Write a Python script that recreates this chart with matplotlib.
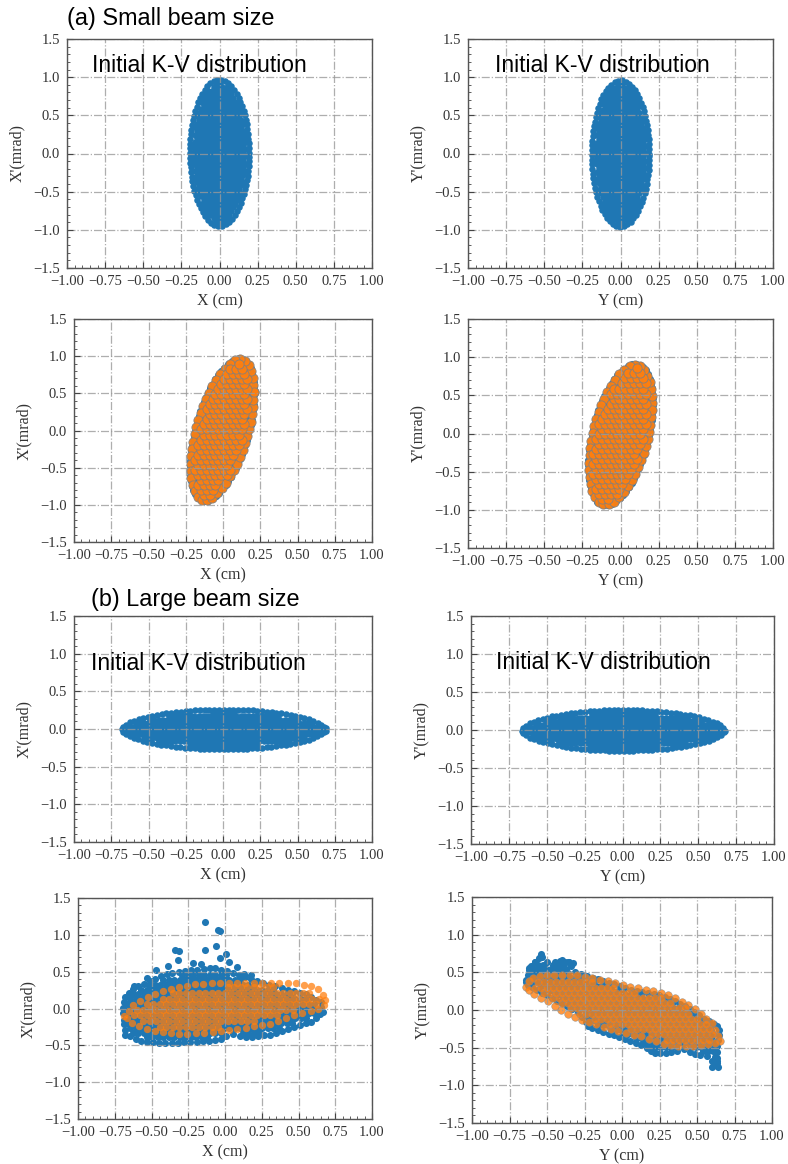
import numpy as np
import matplotlib
matplotlib.use("Agg")
import matplotlib.pyplot as plt
from matplotlib.path import Path
from matplotlib.ticker import MultipleLocator, FuncFormatter

# ---------------- data ----------------
x_tick_values = [-1.00, -0.75, -0.50, -0.25, 0.00, 0.25, 0.50, 0.75, 1.00]
y_tick_values = [-1.5, -1.0, -0.5, 0.0, 0.5, 1.0, 1.5]
x_axis_labels = ["X (cm)", "Y (cm)"]
y_axis_labels = ["X'(mrad)", "Y'(mrad)"]
section_titles = ["(a) Small beam size", "(b) Large beam size"]
annotation = "Initial K-V distribution"

# K-V ellipse envelopes: centre x, centre y, half-width, half-height, tilt (x at top / half-width)
small_initial_x = [0.00, 0.01, 0.215, 1.00, 0.00]
small_initial_y = [0.00, 0.00, 0.210, 1.00, 0.00]
small_final_x = [-0.005, 0.01, 0.240, 1.01, 0.50]
small_final_y = [0.00, -0.015, 0.235, 0.975, 0.42]
large_initial_x = [0.005, -0.005, 0.705, 0.305, 0.00]
large_initial_y = [0.005, -0.005, 0.690, 0.310, 0.00]

# Large beam, final distributions: envelopes
large_final_x_blue = [(-0.71, -0.22), (-0.70, -0.38), (-0.56, -0.50), (-0.38, -0.52), (-0.20, -0.50),
                      (-0.04, -0.47), (0.05, -0.39), (0.15, -0.44), (0.33, -0.40), (0.46, -0.31),
                      (0.60, -0.22), (0.69, -0.07), (0.67, 0.12), (0.56, 0.24), (0.40, 0.32),
                      (0.22, 0.42), (0.08, 0.52), (-0.08, 0.60), (-0.25, 0.56), (-0.40, 0.52),
                      (-0.52, 0.42), (-0.63, 0.32), (-0.70, 0.18), (-0.72, 0.00)]
large_final_x_blue_halo_x = [-0.133, -0.048, -0.033, -0.063, -0.133, -0.342, -0.315, -0.32, 0.01, 0.03,
                             -0.034, -0.39, -0.22, -0.16, 0.08, -0.47, 0.13, 0.18, -0.53, -0.62]
large_final_x_blue_halo_y = [1.18, 1.07, 1.055, 0.85, 0.80, 0.79, 0.78, 0.66, 0.74, 0.63,
                             0.68, 0.58, 0.62, 0.61, 0.56, 0.52, 0.47, 0.45, 0.41, 0.31]
large_final_x_orange = [(-0.71, -0.09), (-0.64, 0.09), (-0.52, 0.21), (-0.34, 0.34), (-0.18, 0.38),
                        (0.05, 0.40), (0.27, 0.40), (0.50, 0.39), (0.63, 0.33), (0.70, 0.18),
                        (0.71, 0.05), (0.65, -0.05), (0.50, -0.12), (0.30, -0.26), (0.00, -0.35),
                        (-0.30, -0.40), (-0.50, -0.35), (-0.66, -0.22)]

large_final_y_blue = [(-0.66, 0.40), (-0.64, 0.58), (-0.59, 0.69), (-0.535, 0.78), (-0.49, 0.68),
                      (-0.41, 0.70), (-0.335, 0.67), (-0.30, 0.54), (-0.146, 0.45), (0.075, 0.31),
                      (0.30, 0.22), (0.474, 0.05), (0.56, -0.08), (0.652, -0.17), (0.675, -0.30),
                      (0.655, -0.48), (0.655, -0.75), (0.61, -0.78), (0.565, -0.66), (0.474, -0.62),
                      (0.41, -0.57), (0.30, -0.61), (0.21, -0.62), (0.13, -0.52), (-0.035, -0.40),
                      (-0.235, -0.26), (-0.30, -0.08), (-0.41, 0.05), (-0.54, 0.18), (-0.66, 0.31)]
large_final_y_blue_halo_x = [-0.54, -0.58, -0.62, -0.40, -0.36, -0.33, 0.60, 0.64, 0.63, 0.62]
large_final_y_blue_halo_y = [0.74, 0.64, 0.56, 0.66, 0.64, 0.62, -0.75, -0.75, -0.68, -0.62]
large_final_y_orange = [(-0.66, 0.31), (-0.635, 0.44), (-0.524, 0.51), (-0.30, 0.51), (-0.146, 0.45),
                        (0.075, 0.35), (0.30, 0.26), (0.474, 0.09), (0.61, -0.13), (0.66, -0.30),
                        (0.68, -0.42), (0.63, -0.48), (0.474, -0.53), (0.30, -0.51), (0.13, -0.40),
                        (-0.06, -0.31), (-0.235, -0.20), (-0.32, -0.14), (-0.37, -0.09), (-0.52, 0.09),
                        (-0.635, 0.22)]

# ---------------- layout / style ----------------
W, H = 788, 1164
BLUE, ORANGE = "#1f77b4", "#ff7f0e"
plt.rcParams["font.family"] = ["Liberation Serif", "DejaVu Serif"]
SANS = ["Liberation Sans", "DejaVu Sans"]

# axes boxes in pixels: left, top, right, bottom
boxes = [(67, 39, 372, 268), (468, 39, 773, 268),
         (74, 319, 372, 542), (468, 319, 773, 548),
         (74, 616, 372, 842), (471, 616, 774, 844),
         (78, 898, 372, 1119), (472, 897, 772, 1123)]


def ellipse_outline(p, n=180):
    cx, cy, hw, hh, tilt = p
    t = np.linspace(0, 2 * np.pi, n, endpoint=False)
    d = np.arccos(tilt)
    return np.column_stack([cx + hw * np.cos(t), cy + hh * np.cos(t - d)])


def resample(P, step):
    Q = np.vstack([P, P[:1]])
    seg = np.sqrt((np.diff(Q, axis=0) ** 2).sum(1))
    cum = np.concatenate([[0], np.cumsum(seg)])
    s = np.arange(0, cum[-1], step)
    return np.column_stack([np.interp(s, cum, Q[:, 0]), np.interp(s, cum, Q[:, 1])])


def seg_dist(pts, P):
    A, B = P, np.roll(P, -1, axis=0)
    AB = B - A
    L2 = np.maximum((AB ** 2).sum(1), 1e-12)
    AP = pts[:, None, :] - A[None, :, :]
    u = np.clip((AP * AB[None]).sum(2) / L2[None], 0, 1)
    proj = A[None] + u[..., None] * AB[None]
    return np.sqrt(((pts[:, None, :] - proj) ** 2).sum(2)).min(1)


def fill_outline(box, outline, spacing, inset, ring_step=1.15, gap=0.6):
    """Marker centres: one ring following the envelope plus a hexagonal lattice inside."""
    l, t, r, b = box
    sx, sy = (r - l) / 2.0, (b - t) / 3.0
    o = np.asarray(outline, float)
    P = np.column_stack([o[:, 0] * sx, o[:, 1] * sy])
    R = resample(P, spacing * ring_step)
    tang = np.roll(R, -1, axis=0) - np.roll(R, 1, axis=0)
    tang /= np.maximum(np.linalg.norm(tang, axis=1, keepdims=True), 1e-9)
    area = 0.5 * np.sum(P[:, 0] * np.roll(P[:, 1], -1) - np.roll(P[:, 0], -1) * P[:, 1])
    sgn = 1.0 if area > 0 else -1.0
    normal_in = sgn * np.column_stack([-tang[:, 1], tang[:, 0]])
    ring = R + inset * normal_in
    (xmin, ymin), (xmax, ymax) = P.min(0), P.max(0)
    dy = spacing * np.sqrt(3) / 2
    pts = []
    for i, yy in enumerate(np.arange(ymin, ymax + dy, dy)):
        xs = np.arange(xmin + (spacing / 2 if i % 2 else 0), xmax + spacing, spacing)
        pts.append(np.column_stack([xs, np.full_like(xs, yy)]))
    pts = np.vstack(pts)
    path = Path(np.vstack([P, P[:1]]), closed=True)
    inside = path.contains_points(pts)
    keep = inside & (seg_dist(pts, P) >= inset + gap * spacing)
    q = np.vstack([ring, pts[keep]])
    return q[:, 0] / sx, q[:, 1] / sy


minus_fmt = lambda f: FuncFormatter(lambda v, pos: (f % v).replace("-", "\u2212"))

fig = plt.figure(figsize=(W / 100, H / 100), dpi=100)
axes = []
for i, (l, t, r, b) in enumerate(boxes):
    ax = fig.add_axes([l / W, 1 - b / H, (r - l) / W, (b - t) / H])
    ax.set_xlim(-1, 1)
    ax.set_ylim(-1.5, 1.5)
    ax.set_xticks(x_tick_values)
    ax.set_yticks(y_tick_values)
    ax.xaxis.set_major_formatter(minus_fmt("%.2f"))
    ax.yaxis.set_major_formatter(minus_fmt("%.1f"))
    ax.xaxis.set_minor_locator(MultipleLocator(0.05))
    ax.yaxis.set_minor_locator(MultipleLocator(0.1))
    ax.tick_params(which="both", direction="in", colors="#444444", labelcolor="#333333",
                   labelsize=10.5, pad=5)
    ax.tick_params(which="major", length=4, width=0.8)
    ax.tick_params(which="minor", length=2.5, width=0.6)
    for s in ax.spines.values():
        s.set_color("#555555")
        s.set_linewidth(1.0)
    ax.grid(True, which="major", linestyle="-.", color="#9a9a9a", linewidth=0.9, alpha=0.8)
    ax.set_xlabel(x_axis_labels[i % 2], fontsize=11.5, color="#333333", labelpad=4)
    ax.set_ylabel(y_axis_labels[i % 2], fontsize=11.5, color="#333333", labelpad=6)
    axes.append(ax)

# Row 1: initial, small beam
for k, p in enumerate([small_initial_x, small_initial_y]):
    x, y = fill_outline(boxes[k], ellipse_outline(p), 4.2, 3.2)
    axes[k].scatter(x, y, s=22, color=BLUE, linewidths=0)

# Row 2: final, small beam
for k, p in enumerate([small_final_x, small_final_y]):
    x, y = fill_outline(boxes[2 + k], ellipse_outline(p), 4.5, 3.6)
    axes[2 + k].scatter(x, y, s=26, color=BLUE, linewidths=0)
    x, y = fill_outline(boxes[2 + k], ellipse_outline(p), 5.8, 4.4, ring_step=1.3)
    axes[2 + k].scatter(x, y, s=44, color=ORANGE, edgecolors="#808080", linewidths=0.6, alpha=0.95)

# Row 3: initial, large beam
for k, p in enumerate([large_initial_x, large_initial_y]):
    x, y = fill_outline(boxes[4 + k], ellipse_outline(p), 4.2, 3.2)
    axes[4 + k].scatter(x, y, s=22, color=BLUE, linewidths=0)

# Row 4: final, large beam
ax = axes[6]
x, y = fill_outline(boxes[6], large_final_x_blue, 5.5, 3.5)
ax.scatter(x, y, s=26, color=BLUE, linewidths=0)
ax.scatter(large_final_x_blue_halo_x, large_final_x_blue_halo_y, s=26, color=BLUE, linewidths=0)
x, y = fill_outline(boxes[6], large_final_x_orange, 6.5, 3.5, ring_step=1.3, gap=0.7)
ax.scatter(x, y, s=28, color=ORANGE, linewidths=0, alpha=0.75)

ax = axes[7]
x, y = fill_outline(boxes[7], large_final_y_blue, 5.0, 3.5)
ax.scatter(x, y, s=26, color=BLUE, linewidths=0)
ax.scatter(large_final_y_blue_halo_x, large_final_y_blue_halo_y, s=26, color=BLUE, linewidths=0)
x, y = fill_outline(boxes[7], large_final_y_orange, 6.0, 3.5, ring_step=1.3, gap=0.7)
ax.scatter(x, y, s=30, color=ORANGE, edgecolors="#8a8a8a", linewidths=0.4, alpha=0.8)

# annotations
for k, (tx, ty) in zip([0, 1, 4, 5], [(-0.838, 1.068), (-0.82, 1.07), (-0.888, 0.783), (-0.835, 0.80)]):
    axes[k].text(tx, ty, annotation, family=SANS, fontsize=16.5, color="black",
                 ha="left", va="baseline", zorder=5)

fig.text(67 / W, 1 - 25 / H, section_titles[0], family=SANS, fontsize=16.8, ha="left", va="baseline")
fig.text(90.7 / W, 1 - 606 / H, section_titles[1], family=SANS, fontsize=16.8, ha="left", va="baseline")

fig.savefig("out.png", dpi=100)
